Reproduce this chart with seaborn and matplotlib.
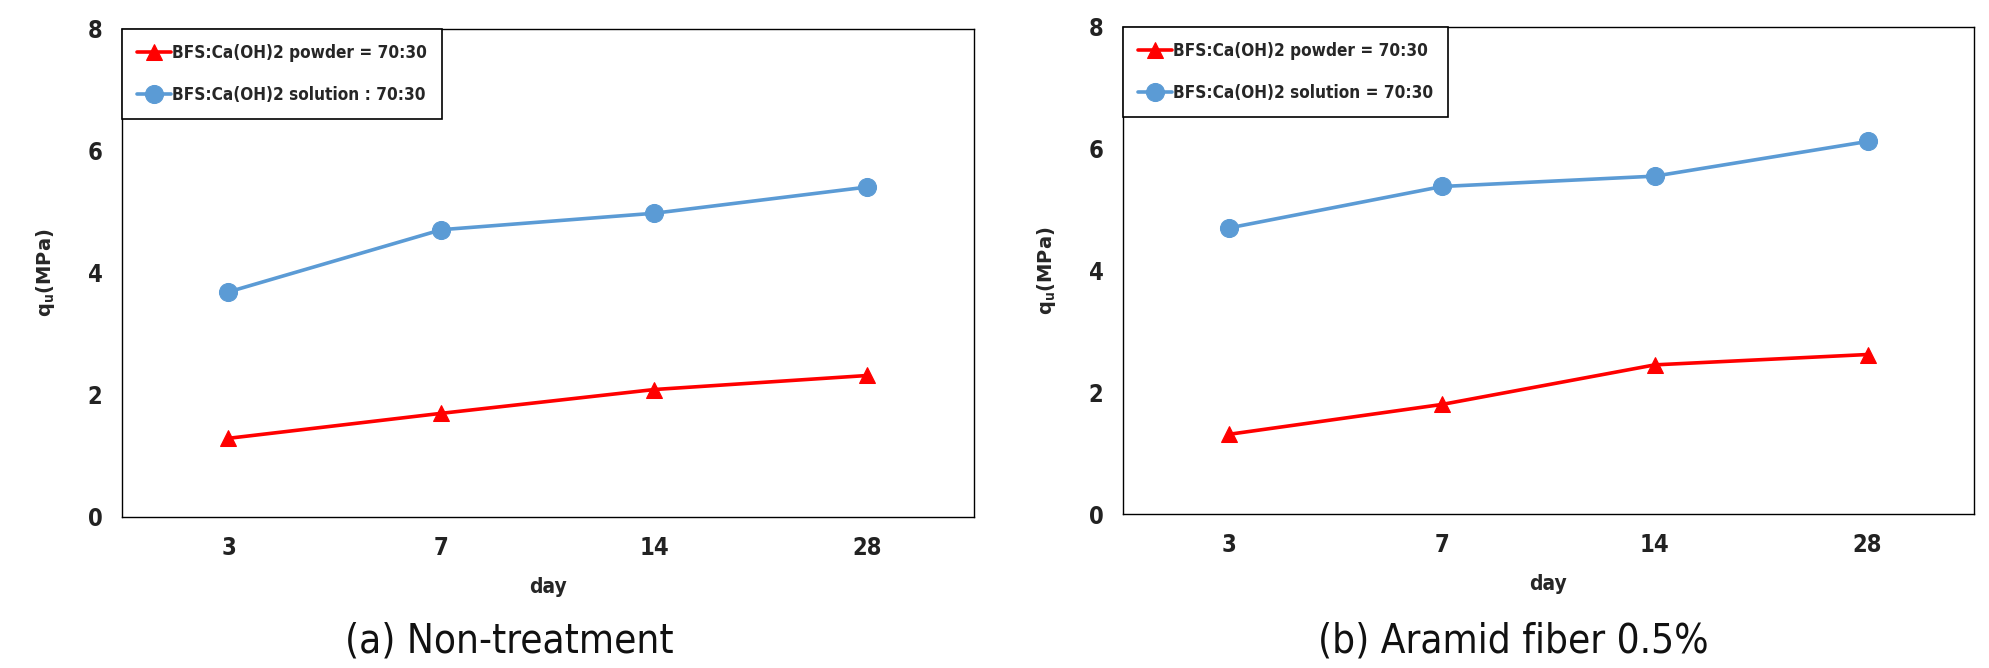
import matplotlib
matplotlib.use("Agg")
import matplotlib.pyplot as plt
import seaborn as sns
import pandas as pd

days = ["3", "7", "14", "28"]
powder_a = [1.29, 1.70, 2.09, 2.32]
solution_a = [3.69, 4.71, 4.98, 5.41]
powder_b = [1.31, 1.80, 2.45, 2.62]
solution_b = [4.70, 5.38, 5.55, 6.12]
labels_a = ["BFS:Ca(OH)2 powder = 70:30", "BFS:Ca(OH)2 solution : 70:30"]
labels_b = ["BFS:Ca(OH)2 powder = 70:30", "BFS:Ca(OH)2 solution = 70:30"]
captions = ["(a) Non-treatment", "(b) Aramid fiber 0.5%"]
yticks = [0, 2, 4, 6, 8]

sns.set_theme(style="white")
FAM = ["DejaVu Sans"]
plt.rcParams["font.family"] = FAM
plt.rcParams["font.stretch"] = "condensed"

fig = plt.figure(figsize=(19.9, 6.68), dpi=100)
W, H = 1990, 668
boxes = [(122, 29, 974, 517), (1123, 27, 1974, 514)]
panels = [(powder_a, solution_a, labels_a), (powder_b, solution_b, labels_b)]
cap_x = [509, 1513]

for (x0, y0, x1, y1), (pw, so, labs), cap, cx in zip(boxes, panels, captions, cap_x):
    ax = fig.add_axes([x0 / W, 1 - y1 / H, (x1 - x0) / W, (y1 - y0) / H])
    df1 = pd.DataFrame({"day": days, "q": pw})
    df2 = pd.DataFrame({"day": days, "q": so})
    sns.lineplot(data=df1, x="day", y="q", ax=ax, color="#FF0000", lw=2.6,
                 marker="^", markersize=11, markeredgecolor="#FF0000", label=labs[0], sort=False)
    sns.lineplot(data=df2, x="day", y="q", ax=ax, color="#5B9BD5", lw=2.6,
                 marker="o", markersize=13, markeredgecolor="#5B9BD5", label=labs[1], sort=False)
    ax.set_xlim(-0.5, 3.5)
    ax.set_ylim(0, 8)
    ax.set_yticks(yticks)
    ax.tick_params(axis="both", length=0, labelsize=17, colors="#222222", pad=14)
    for t in ax.get_xticklabels() + ax.get_yticklabels():
        t.set_fontweight("bold")
    for s in ax.spines.values():
        s.set_visible(True)
        s.set_color("black")
        s.set_linewidth(1.0)
    ax.set_xlabel("day", fontsize=15, fontweight="bold", labelpad=12)
    ax.set_ylabel(r"q$_\mathbf{u}$(MPa)", fontsize=14, fontweight="bold", labelpad=22,
                  fontstretch="normal")
    leg = ax.legend(loc="upper left", bbox_to_anchor=(0, 1), borderaxespad=0,
                    fancybox=False, edgecolor="black", framealpha=1,
                    prop={"family": FAM, "weight": "bold", "size": 12.3, "stretch": "condensed"},
                    handlelength=2.0, handletextpad=0.1, labelspacing=1.45,
                    borderpad=0.85)
    leg.get_frame().set_linewidth(1.2)
    fig.text(cx / W, 1 - 642 / H, cap, ha="center", va="center", fontsize=29,
             family=FAM, fontstretch="condensed", fontweight="light", color="#111111")

fig.savefig("out.png", dpi=100)
